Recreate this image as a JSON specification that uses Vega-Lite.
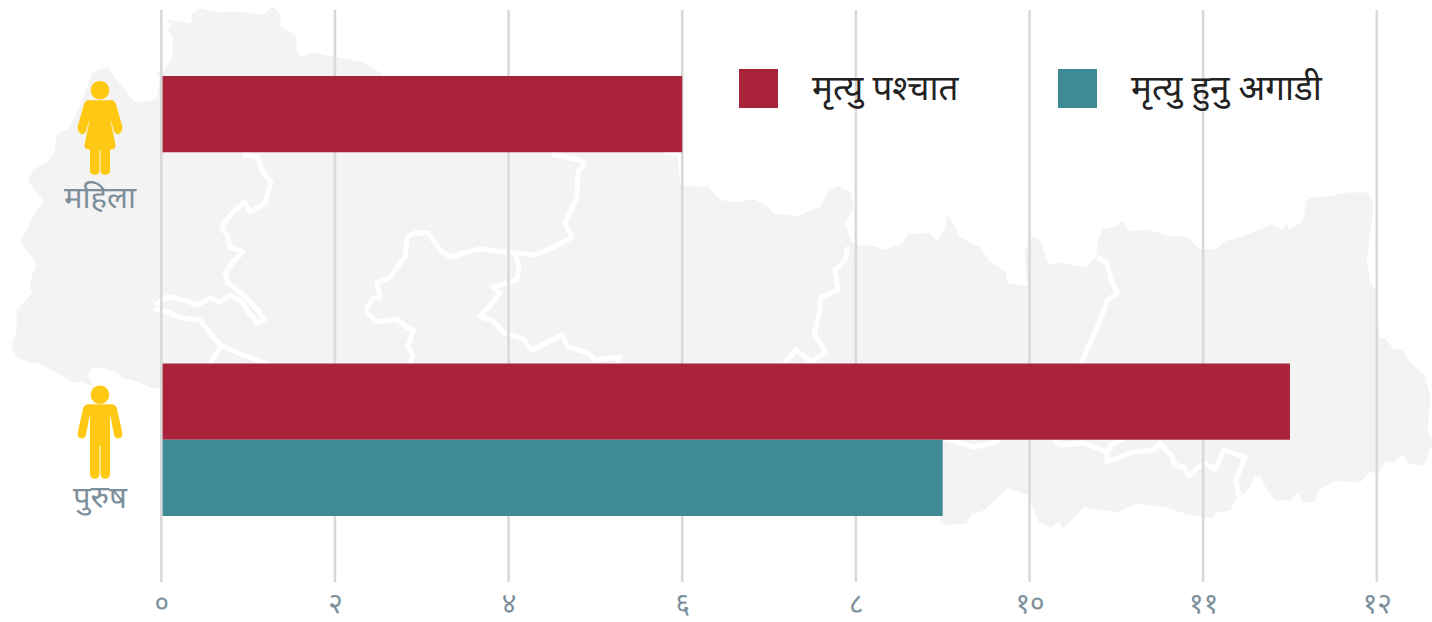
{
"$schema":"https://vega.github.io/schema/vega-lite/v6.json",
"autosize":{"type":"none"},
"width":1215.5,"height":572,
"padding":{"left":161.3,"top":10,"right":55.2,"bottom":40},
"background":"white",
"config":{"view":{"stroke":null},"font":"Noto Sans"},
"datasets":{
"outline":[
{"x":167,"y":20},{"x":192,"y":24},{"x":192,"y":14},{"x":200,"y":9},{"x":217,"y":13},{"x":233,"y":12},{"x":253,"y":14},{"x":263,"y":15},{"x":273,"y":7},{"x":280,"y":15},{"x":280,"y":27},{"x":295,"y":35},{"x":297,"y":53},{"x":302,"y":57},{"x":313,"y":53},{"x":330,"y":57},{"x":335,"y":57},{"x":363,"y":63},{"x":380,"y":73},{"x":385,"y":78},{"x":660,"y":152},{"x":665,"y":155},{"x":677,"y":157},{"x":680,"y":185},{"x":693,"y":187},{"x":708,"y":187},{"x":720,"y":200},{"x":733,"y":203},{"x":755,"y":200},{"x":767,"y":207},{"x":773,"y":214},{"x":797,"y":217},{"x":808,"y":212},{"x":820,"y":208},{"x":830,"y":190},{"x":838,"y":187},{"x":850,"y":192},{"x":853,"y":207},{"x":845,"y":223},{"x":850,"y":240},{"x":857,"y":246},{"x":872,"y":246},{"x":885,"y":250},{"x":902,"y":245},{"x":908,"y":235},{"x":930,"y":233},{"x":937,"y":242},{"x":945,"y":230},{"x":948,"y":215},{"x":960,"y":238},{"x":980,"y":248},{"x":990,"y":262},{"x":1005,"y":272},{"x":1007,"y":283},{"x":1028,"y":287},{"x":1025,"y":252},{"x":1032,"y":237},{"x":1040,"y":240},{"x":1048,"y":265},{"x":1060,"y":263},{"x":1085,"y":268},{"x":1097,"y":257},{"x":1098,"y":242},{"x":1103,"y":230},{"x":1115,"y":227},{"x":1123,"y":222},{"x":1130,"y":232},{"x":1148,"y":230},{"x":1170,"y":237},{"x":1187,"y":237},{"x":1200,"y":250},{"x":1217,"y":249},{"x":1225,"y":242},{"x":1247,"y":235},{"x":1272,"y":225},{"x":1282,"y":230},{"x":1287,"y":224},{"x":1288,"y":230},{"x":1302,"y":223},{"x":1308,"y":200},{"x":1313,"y":198},{"x":1327,"y":197},{"x":1347,"y":193},{"x":1368,"y":193},{"x":1373,"y":205},{"x":1370,"y":233},{"x":1366,"y":260},{"x":1368,"y":270},{"x":1370,"y":283},{"x":1377,"y":292},{"x":1377,"y":323},{"x":1379,"y":338},{"x":1385,"y":339},{"x":1393,"y":349},{"x":1402,"y":350},{"x":1409,"y":362},{"x":1424,"y":375},{"x":1430,"y":397},{"x":1427,"y":430},{"x":1432,"y":443},{"x":1427,"y":457},{"x":1424,"y":465},{"x":1409,"y":463},{"x":1402,"y":453},{"x":1394,"y":463},{"x":1385,"y":460},{"x":1379,"y":472},{"x":1369,"y":472},{"x":1360,"y":482},{"x":1336,"y":480},{"x":1318,"y":490},{"x":1315,"y":502},{"x":1303,"y":502},{"x":1298,"y":492},{"x":1290,"y":500},{"x":1275,"y":500},{"x":1266,"y":487},{"x":1260,"y":475},{"x":1254,"y":477},{"x":1248,"y":490},{"x":1236,"y":498},{"x":1230,"y":510},{"x":1215,"y":512},{"x":1212,"y":518},{"x":1184,"y":513},{"x":1166,"y":507},{"x":1139,"y":503},{"x":1127,"y":507},{"x":1118,"y":512},{"x":1084,"y":507},{"x":1063,"y":528},{"x":1060,"y":520},{"x":1051,"y":527},{"x":1039,"y":522},{"x":1029,"y":495},{"x":1007,"y":488},{"x":984,"y":510},{"x":972,"y":513},{"x":966,"y":523},{"x":946,"y":525},{"x":940,"y":518},{"x":900,"y":480},{"x":170,"y":390},{"x":160,"y":387},{"x":153,"y":388},{"x":143,"y":384},{"x":133,"y":380},{"x":123,"y":378},{"x":117,"y":372},{"x":103,"y":368},{"x":92,"y":367},{"x":88,"y":375},{"x":92,"y":385},{"x":80,"y":381},{"x":72,"y":382},{"x":62,"y":375},{"x":52,"y":370},{"x":40,"y":363},{"x":30,"y":362},{"x":17,"y":357},{"x":12,"y":347},{"x":17,"y":330},{"x":17,"y":310},{"x":33,"y":293},{"x":30,"y":284},{"x":37,"y":263},{"x":21,"y":243},{"x":27,"y":230},{"x":37,"y":210},{"x":45,"y":202},{"x":29,"y":182},{"x":33,"y":170},{"x":47,"y":163},{"x":55,"y":152},{"x":57,"y":135},{"x":70,"y":128},{"x":83,"y":100},{"x":93,"y":72},{"x":107,"y":68},{"x":115,"y":78},{"x":135,"y":103},{"x":157,"y":100},{"x":160,"y":80},{"x":157,"y":73},{"x":163,"y":72},{"x":173,"y":58},{"x":173,"y":37},{"x":168,"y":30},{"x":172,"y":25},{"x":167,"y":20}
],
"borders":[
{"l":"a","x":243,"y":154},{"l":"a","x":258,"y":157},{"l":"a","x":262,"y":170},{"l":"a","x":271,"y":183},{"l":"a","x":265,"y":203},{"l":"a","x":250,"y":212},{"l":"a","x":245,"y":202},{"l":"a","x":232,"y":213},{"l":"a","x":222,"y":227},{"l":"a","x":228,"y":237},{"l":"a","x":230,"y":247},{"l":"a","x":243,"y":252},{"l":"a","x":233,"y":262},{"l":"a","x":225,"y":273},{"l":"a","x":228,"y":283},{"l":"a","x":247,"y":298},{"l":"a","x":260,"y":313},{"l":"a","x":264,"y":320},{"l":"a","x":257,"y":323},{"l":"a","x":247,"y":310},
{"l":"b","x":155,"y":305},{"l":"b","x":167,"y":297},{"l":"b","x":180,"y":299},{"l":"b","x":197,"y":305},{"l":"b","x":210,"y":298},{"l":"b","x":220,"y":302},{"l":"b","x":230,"y":295},{"l":"b","x":240,"y":300},{"l":"b","x":257,"y":323},
{"l":"c","x":155,"y":309},{"l":"c","x":167,"y":312},{"l":"c","x":182,"y":318},{"l":"c","x":200,"y":320},{"l":"c","x":210,"y":333},{"l":"c","x":220,"y":345},{"l":"c","x":243,"y":355},{"l":"c","x":267,"y":364},
{"l":"d","x":220,"y":347},{"l":"d","x":210,"y":364},
{"l":"e","x":410,"y":364},{"l":"e","x":413,"y":355},{"l":"e","x":408,"y":347},{"l":"e","x":413,"y":330},{"l":"e","x":408,"y":328},{"l":"e","x":397,"y":319},{"l":"e","x":377,"y":322},{"l":"e","x":367,"y":313},{"l":"e","x":367,"y":308},{"l":"e","x":373,"y":298},{"l":"e","x":380,"y":297},{"l":"e","x":377,"y":283},{"l":"e","x":390,"y":277},{"l":"e","x":405,"y":257},{"l":"e","x":407,"y":237},{"l":"e","x":415,"y":233},{"l":"e","x":428,"y":233},{"l":"e","x":440,"y":250},{"l":"e","x":450,"y":257},{"l":"e","x":467,"y":252},{"l":"e","x":480,"y":249},{"l":"e","x":505,"y":252},{"l":"e","x":535,"y":255},{"l":"e","x":552,"y":248},{"l":"e","x":572,"y":237},{"l":"e","x":565,"y":223},{"l":"e","x":577,"y":197},{"l":"e","x":578,"y":172},{"l":"e","x":585,"y":163},{"l":"e","x":580,"y":160},{"l":"e","x":552,"y":154},
{"l":"f","x":515,"y":253},{"l":"f","x":519,"y":268},{"l":"f","x":517,"y":280},{"l":"f","x":493,"y":287},{"l":"f","x":500,"y":293},{"l":"f","x":488,"y":308},{"l":"f","x":480,"y":317},{"l":"f","x":492,"y":320},{"l":"f","x":504,"y":333},{"l":"f","x":522,"y":338},{"l":"f","x":532,"y":350},{"l":"f","x":562,"y":335},{"l":"f","x":568,"y":347},{"l":"f","x":586,"y":352},{"l":"f","x":595,"y":360},{"l":"f","x":620,"y":357},{"l":"f","x":617,"y":364},
{"l":"g","x":848,"y":247},{"l":"g","x":845,"y":260},{"l":"g","x":835,"y":270},{"l":"g","x":838,"y":290},{"l":"g","x":820,"y":298},{"l":"g","x":820,"y":310},{"l":"g","x":814,"y":333},{"l":"g","x":826,"y":352},{"l":"g","x":811,"y":362},{"l":"g","x":796,"y":350},{"l":"g","x":784,"y":364},
{"l":"h","x":1097,"y":257},{"l":"h","x":1107,"y":263},{"l":"h","x":1112,"y":283},{"l":"h","x":1118,"y":293},{"l":"h","x":1107,"y":300},{"l":"h","x":1104,"y":310},{"l":"h","x":1096,"y":330},{"l":"h","x":1087,"y":350},{"l":"h","x":1081,"y":364},
{"l":"i","x":942,"y":438},{"l":"i","x":960,"y":443},{"l":"i","x":975,"y":447},{"l":"i","x":996,"y":442},{"l":"i","x":1002,"y":436},
{"l":"j","x":1051,"y":436},{"l":"j","x":1060,"y":445},{"l":"j","x":1084,"y":443},{"l":"j","x":1107,"y":452},{"l":"j","x":1107,"y":462},{"l":"j","x":1133,"y":452},{"l":"j","x":1154,"y":450},{"l":"j","x":1160,"y":443},{"l":"j","x":1172,"y":457},{"l":"j","x":1175,"y":465},{"l":"j","x":1184,"y":467},{"l":"j","x":1189,"y":476},{"l":"j","x":1199,"y":467},{"l":"j","x":1205,"y":463},{"l":"j","x":1215,"y":470},{"l":"j","x":1224,"y":450},{"l":"j","x":1245,"y":457},{"l":"j","x":1236,"y":480},{"l":"j","x":1239,"y":497},
{"l":"k","x":1108,"y":451},{"l":"k","x":1111,"y":445},{"l":"k","x":1124,"y":438}
],
"bars":[
{"gender":"महिला","series":"मृत्यु पश्चात","value":6},
{"gender":"पुरुष","series":"मृत्यु पश्चात","value":13},
{"gender":"पुरुष","series":"मृत्यु हुनु अगाडी","value":9}
],
"people":[{"gender":"महिला","pos":-0.706},{"gender":"पुरुष","pos":-0.706}],
"ticks":[{"t":0},{"t":2},{"t":4},{"t":6},{"t":8},{"t":10},{"t":12},{"t":14}]
},
"resolve":{"scale":{"x":"independent","y":"independent"}},
"layer":[
{"data":{"name":"outline"},
 "mark":{"type":"line","fill":"#f3f3f3","stroke":"#f3f3f3","strokeWidth":1,"order":null},
 "encoding":{
  "x":{"field":"x","type":"quantitative","axis":null,"scale":{"domain":[161.3,1376.8],"nice":false,"zero":false}},
  "y":{"field":"y","type":"quantitative","axis":null,"scale":{"domain":[10,582],"reverse":true,"nice":false,"zero":false}},
  "order":{"value":null}
 }},
{"data":{"name":"borders"},
 "mark":{"type":"line","stroke":"#ffffff","strokeWidth":5,"strokeJoin":"round","order":null},
 "encoding":{
  "x":{"field":"x","type":"quantitative","axis":null,"scale":{"domain":[161.3,1376.8],"nice":false,"zero":false}},
  "y":{"field":"y","type":"quantitative","axis":null,"scale":{"domain":[10,582],"reverse":true,"nice":false,"zero":false}},
  "detail":{"field":"l"},
  "order":{"value":null}
 }},
{"layer":[
 {"data":{"name":"ticks"},
  "mark":{"type":"rule","color":"#d9d9d9","strokeWidth":2.6},
  "encoding":{
   "x":{"field":"t","type":"quantitative","scale":{"domain":[0,14],"nice":false},
    "axis":{"values":[0,2,4,6,8,10,12,14],"title":null,"grid":false,"ticks":false,"domain":false,"labelFontSize":28,"labelColor":"#7c8f9b","labelPadding":8,"labelFlush":false,"labelExpr":"['०','२','४','६','८','१०','११','१२'][datum.value/2]"}}
  }},
 {"data":{"name":"bars"},
  "mark":{"type":"bar"},
  "encoding":{
   "x":{"field":"value","type":"quantitative","scale":{"domain":[0,14],"nice":false}},
   "x2":{"datum":0.015},
   "y":{"field":"gender","type":"nominal","axis":null,"sort":null,"scale":{"type":"band","domain":["महिला","पुरुष"],"paddingInner":0.47,"paddingOuter":0.23}},
   "yOffset":{"field":"series","sort":["मृत्यु पश्चात","मृत्यु हुनु अगाडी"],"scale":{"domain":["मृत्यु पश्चात","मृत्यु हुनु अगाडी"],"paddingInner":0,"paddingOuter":0}},
   "color":{"field":"series","type":"nominal","scale":{"domain":["मृत्यु पश्चात","मृत्यु हुनु अगाडी"],"range":["#a9233b","#3e8a95"]},
    "legend":{"orient":"none","legendX":577.7,"legendY":59,"direction":"horizontal","columns":2,"title":null,"symbolType":"square","symbolSize":1521,"symbolStrokeWidth":0,"labelFontSize":35,"labelColor":"#222222","labelOffset":34,"labelLimit":400,"columnPadding":99,"padding":0,"gridAlign":"each"}}
  }},
 {"data":{"name":"people"},
  "mark":{"type":"point","filled":true,"opacity":1,"size":4,"color":"#ffc813"},
  "encoding":{
   "x":{"field":"pos","type":"quantitative","scale":{"domain":[0,14],"nice":false}},
   "y":{"field":"gender","type":"nominal","axis":null,"sort":null,"scale":{"type":"band","domain":["महिला","पुरुष"],"paddingInner":0.47,"paddingOuter":0.23}},
   "shape":{"field":"gender","type":"nominal","legend":null,"scale":{"domain":["महिला","पुरुष"],"range":[
    "M0,-71.4A9.3,9.3 0 1,1 0,-52.8A9.3,9.3 0 1,1 0,-71.4ZM-11,-52L11,-52Q15,-52 16,-48L22.3,-26Q23,-20 18,-18Q15,-18 14,-21L10,-35L15.5,-7Q16,-3 10,-2.5L10,18Q10,22.5 5,22.5Q0.7,22.5 0.5,18L0.5,-2.5L-0.5,-2.5L-0.5,18Q-0.7,22.5 -5,22.5Q-10,22.5 -10,18L-10,-2.5Q-16,-3 -15.5,-7L-10,-35L-14,-21Q-15,-18 -18,-18Q-23,-20 -22.3,-26L-16,-48Q-15,-52 -11,-52Z",
    "M0,-54.3A9.3,9.3 0 1,1 0,-35.7A9.3,9.3 0 1,1 0,-54.3ZM-11,-35.5L11,-35.5Q16,-35.5 17,-31L22.3,-7Q23,-1.3 18,-1.3Q15,-1.3 14,-5L10,-26L10,34Q10,39 5,39Q0.7,39 0.5,34L0.5,6L-0.5,6L-0.5,34Q-0.7,39 -5,39Q-10,39 -10,34L-10,-26L-14,-5Q-15,-1.3 -18,-1.3Q-23,-1.3 -22.3,-7L-17,-31Q-16,-35.5 -11,-35.5Z"
   ]}}
  }},
 {"data":{"name":"people"},
  "transform":[{"filter":"datum.gender==='महिला'"}],
  "mark":{"type":"text","fontSize":31,"color":"#7c8f9b","dy":47},
  "encoding":{
   "x":{"field":"pos","type":"quantitative","scale":{"domain":[0,14],"nice":false}},
   "y":{"field":"gender","type":"nominal","axis":null,"sort":null,"scale":{"type":"band","domain":["महिला","पुरुष"],"paddingInner":0.47,"paddingOuter":0.23}},
   "text":{"field":"gender"}
  }},
 {"data":{"name":"people"},
  "transform":[{"filter":"datum.gender==='पुरुष'"}],
  "mark":{"type":"text","fontSize":31,"color":"#7c8f9b","dy":59},
  "encoding":{
   "x":{"field":"pos","type":"quantitative","scale":{"domain":[0,14],"nice":false}},
   "y":{"field":"gender","type":"nominal","axis":null,"sort":null,"scale":{"type":"band","domain":["महिला","पुरुष"],"paddingInner":0.47,"paddingOuter":0.23}},
   "text":{"field":"gender"}
  }}
]}
]
}
